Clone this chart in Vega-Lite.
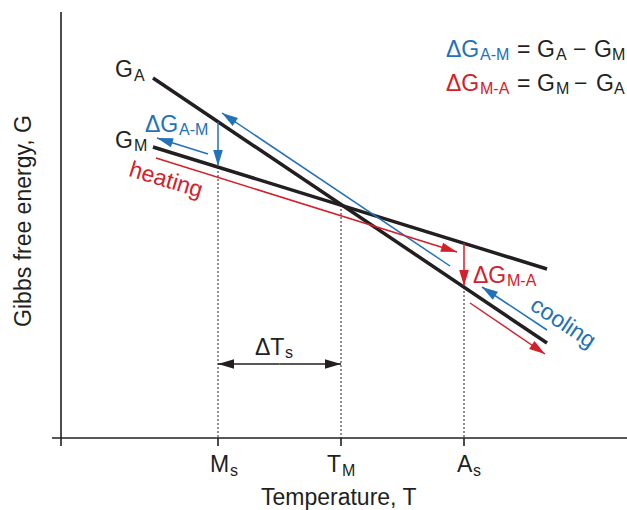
{
  "$schema": "https://vega.github.io/schema/vega-lite/v6.json",
  "width": 627,
  "height": 510,
  "padding": 0,
  "autosize": "none",
  "background": "white",
  "config": {"view": {"stroke": null}, "font": "Liberation Sans", "text": {"font": "Liberation Sans"}},
  "datasets": {
    "segs": [
      {"group": "axis", "T": -9, "G": 0, "T2": 566, "G2": 0},
      {"group": "axis", "T": 0, "G": 426, "T2": 0, "G2": -8},
      {"group": "axis", "T": 157, "G": 0, "T2": 157, "G2": -8},
      {"group": "axis", "T": 280, "G": 0, "T2": 280, "G2": -8},
      {"group": "axis", "T": 403, "G": 0, "T2": 403, "G2": -8},
      {"group": "guide", "T": 157, "G": 271, "T2": 157, "G2": 0},
      {"group": "guide", "T": 280, "G": 233, "T2": 280, "G2": 0},
      {"group": "guide", "T": 403, "G": 151, "T2": 403, "G2": 0},
      {"group": "curve", "name": "G_A", "T": 92, "G": 360, "T2": 486, "G2": 95},
      {"group": "curve", "name": "G_M", "T": 92, "G": 291, "T2": 486, "G2": 169}
    ],
    "arrows": [
      {"kind": "AM", "T": 157, "G": 272, "T0": 157, "G0": 316},
      {"kind": "MA", "T": 403, "G": 152, "T0": 403, "G0": 195},
      {"kind": "AM", "T": 161, "G": 325, "T0": 389, "G0": 172},
      {"kind": "AM", "T": 96, "G": 300, "T0": 147, "G0": 284},
      {"kind": "MA", "T": 396, "G": 186, "T0": 95, "G0": 280},
      {"kind": "MA", "T": 484, "G": 84, "T0": 409, "G0": 135},
      {"kind": "AM", "T": 421, "G": 151, "T0": 486, "G0": 108},
      {"kind": "neutral", "T": 157, "G": 74, "T0": 218.5, "G0": 74},
      {"kind": "neutral", "T": 280, "G": 74, "T0": 218.5, "G0": 74}
    ],
    "bigtext": [
      {"kind": "neutral", "text": "G", "T": 54, "G": 361},
      {"kind": "neutral", "text": "G", "T": 54, "G": 290},
      {"kind": "AM", "text": "ΔG", "T": 84, "G": 306},
      {"kind": "MA", "text": "ΔG", "T": 412, "G": 155},
      {"kind": "AM", "text": "ΔG", "T": 385, "G": 381},
      {"kind": "neutral", "text": "=", "T": 456, "G": 381},
      {"kind": "neutral", "text": "G", "T": 476, "G": 381},
      {"kind": "neutral", "text": "−", "T": 512, "G": 381},
      {"kind": "neutral", "text": "G", "T": 533, "G": 381},
      {"kind": "MA", "text": "ΔG", "T": 385, "G": 347},
      {"kind": "neutral", "text": "=", "T": 456, "G": 347},
      {"kind": "neutral", "text": "G", "T": 476, "G": 347},
      {"kind": "neutral", "text": "−", "T": 513, "G": 347},
      {"kind": "neutral", "text": "G", "T": 535, "G": 347},
      {"kind": "neutral", "text": "ΔT", "T": 194, "G": 83},
      {"kind": "neutral", "text": "M", "T": 149, "G": -34},
      {"kind": "neutral", "text": "T", "T": 266, "G": -34},
      {"kind": "neutral", "text": "A", "T": 396, "G": -34},
      {"kind": "neutral", "text": "Temperature, T", "T": 200, "G": -67}
    ],
    "subtext": [
      {"kind": "neutral", "text": "A", "T": 73, "G": 357},
      {"kind": "neutral", "text": "M", "T": 73, "G": 287},
      {"kind": "AM", "text": "A-M", "T": 118, "G": 303},
      {"kind": "MA", "text": "M-A", "T": 446, "G": 152},
      {"kind": "AM", "text": "A-M", "T": 419, "G": 378},
      {"kind": "neutral", "text": "A", "T": 495, "G": 378},
      {"kind": "neutral", "text": "M", "T": 551, "G": 378},
      {"kind": "MA", "text": "M-A", "T": 419, "G": 344},
      {"kind": "neutral", "text": "M", "T": 495, "G": 344},
      {"kind": "neutral", "text": "A", "T": 553, "G": 344},
      {"kind": "neutral", "text": "s", "T": 224, "G": 80},
      {"kind": "neutral", "text": "s", "T": 169, "G": -38},
      {"kind": "neutral", "text": "M", "T": 281, "G": -38},
      {"kind": "neutral", "text": "s", "T": 412, "G": -38}
    ],
    "heating": [{"kind": "MA", "text": "heating", "T": 105, "G": 258}],
    "cooling": [{"kind": "AM", "text": "cooling", "T": 502, "G": 115}],
    "ytitle": [{"kind": "neutral", "text": "Gibbs free energy, G", "T": -37, "G": 217}]
  },
  "encoding": {
    "x": {"field": "T", "type": "quantitative", "axis": null, "scale": {"domain": [-61, 566], "nice": false, "zero": false}},
    "y": {"field": "G", "type": "quantitative", "axis": null, "scale": {"domain": [-72, 438], "nice": false, "zero": false}},
    "color": {"field": "kind", "type": "nominal", "legend": null, "scale": {"domain": ["neutral", "AM", "MA"], "range": ["#231f20", "#2271b9", "#d3202a"]}}
  },
  "layer": [
    {
      "data": {"name": "segs"},
      "transform": [{"filter": "datum.group === 'axis'"}],
      "mark": {"type": "rule", "strokeWidth": 1.6, "color": "#231f20"},
      "encoding": {"x2": {"field": "T2"}, "y2": {"field": "G2"}, "color": {"value": "#231f20"}}
    },
    {
      "data": {"name": "segs"},
      "transform": [{"filter": "datum.group === 'guide'"}],
      "mark": {"type": "rule", "strokeWidth": 1, "strokeDash": [2, 2]},
      "encoding": {"x2": {"field": "T2"}, "y2": {"field": "G2"}, "color": {"value": "#231f20"}}
    },
    {
      "data": {"name": "segs"},
      "transform": [{"filter": "datum.group === 'curve'"}],
      "mark": {"type": "rule", "strokeWidth": 3.5, "strokeCap": "butt"},
      "encoding": {"x2": {"field": "T2"}, "y2": {"field": "G2"}, "color": {"value": "#231f20"}}
    },
    {
      "data": {"name": "arrows"},
      "mark": {"type": "rule", "strokeWidth": 1.5},
      "encoding": {"x2": {"field": "T0"}, "y2": {"field": "G0"}}
    },
    {
      "data": {"name": "arrows"},
      "transform": [{"calculate": "atan2(datum.T - datum.T0, datum.G - datum.G0) * 180 / PI", "as": "heading"}],
      "mark": {"type": "point", "shape": "M0,0L0.6,2L-0.6,2Z", "filled": true, "size": 256, "opacity": 1, "strokeWidth": 0},
      "encoding": {"angle": {"field": "heading", "type": "quantitative", "scale": null}}
    },
    {
      "data": {"name": "bigtext"},
      "mark": {"type": "text", "fontSize": 23, "align": "left", "baseline": "alphabetic"},
      "encoding": {"text": {"field": "text"}}
    },
    {
      "data": {"name": "subtext"},
      "mark": {"type": "text", "fontSize": 16, "align": "left", "baseline": "alphabetic"},
      "encoding": {"text": {"field": "text"}}
    },
    {
      "data": {"name": "heating"},
      "mark": {"type": "text", "fontSize": 23, "align": "center", "baseline": "middle", "angle": 17},
      "encoding": {"text": {"field": "text"}}
    },
    {
      "data": {"name": "cooling"},
      "mark": {"type": "text", "fontSize": 23, "align": "center", "baseline": "middle", "angle": 33.5},
      "encoding": {"text": {"field": "text"}}
    },
    {
      "data": {"name": "ytitle"},
      "mark": {"type": "text", "fontSize": 23, "align": "center", "baseline": "middle", "angle": 270},
      "encoding": {"text": {"field": "text"}}
    }
  ]
}
